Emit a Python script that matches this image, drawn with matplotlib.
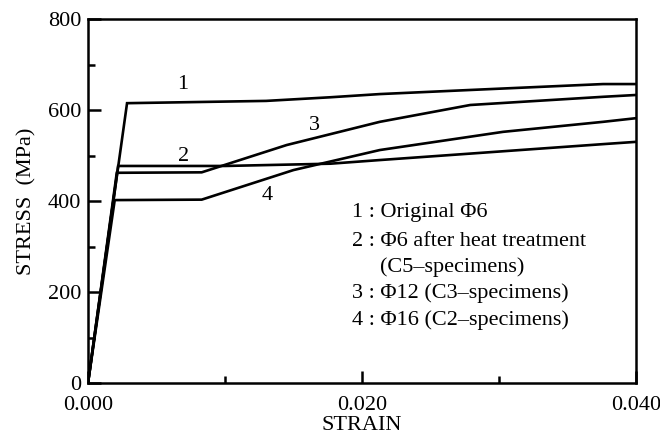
import matplotlib
matplotlib.use("Agg")
import matplotlib.pyplot as plt
from matplotlib.ticker import MultipleLocator, FixedLocator

plt.rcParams['font.family'] = ['Liberation Serif', 'DejaVu Serif']

# Curve 1: Original Φ6
strain1 = [0.0, 0.00285, 0.013, 0.0177, 0.0213, 0.0279, 0.0376, 0.040]
stress1 = [0, 615, 620, 628, 635, 644, 657, 657]
# Curve 2: Φ6 after heat treatment
strain2 = [0.0, 0.0022, 0.010, 0.0177, 0.0213, 0.0376, 0.040]
stress2 = [0, 477, 477, 482, 490, 525, 530]
# Curve 3: Φ12
strain3 = [0.0, 0.0021, 0.0083, 0.0145, 0.0213, 0.0279, 0.0376, 0.040]
stress3 = [0, 462, 463, 523, 574, 611, 629, 633]
# Curve 4: Φ16
strain4 = [0.0, 0.00195, 0.0083, 0.0150, 0.0213, 0.0303, 0.0376, 0.040]
stress4 = [0, 402, 403, 468, 512, 552, 574, 582]

curve_labels = ["1", "2", "3", "4"]
legend_lines = ["1 : Original Φ6",
                "2 : Φ6 after heat treatment",
                "(C5–specimens)",
                "3 : Φ12 (C3–specimens)",
                "4 : Φ16 (C2–specimens)"]

FS = 16
fig = plt.figure(figsize=(6.6, 4.41), dpi=100)
ax = fig.add_axes([88/660, 1 - 383/441, 548/660, 364/441])

lw = 1.9
for sx, sy in [(strain1, stress1), (strain2, stress2), (strain3, stress3), (strain4, stress4)]:
    ax.plot(sx, sy, color='black', lw=lw, solid_joinstyle='miter')

ax.set_xlim(0, 0.040)
ax.set_ylim(0, 800)

for s in ax.spines.values():
    s.set_linewidth(1.8)

ax.xaxis.set_major_locator(FixedLocator([0.0, 0.020, 0.040]))
ax.xaxis.set_minor_locator(FixedLocator([0.010, 0.030]))
ax.yaxis.set_major_locator(MultipleLocator(200))
ax.yaxis.set_minor_locator(MultipleLocator(100))
ax.set_xticklabels(["0.000", "0.020", "0.040"])
ax.tick_params(axis='both', which='major', direction='in', length=9, width=1.8,
               labelsize=FS, top=False, right=False, pad=5)
ax.tick_params(axis='both', which='minor', direction='in', length=5, width=1.8,
               top=False, right=False)
ax.tick_params(axis='x', which='major', pad=9)

ax.set_xlabel("STRAIN", fontsize=FS, labelpad=1)
ax.set_ylabel("STRESS  (MPa)", fontsize=FS, labelpad=8)

# curve number labels
label_pos = [(0.0069, 657), (0.0070, 497), (0.0165, 565), (0.0131, 411)]
for t, (x, y) in zip(curve_labels, label_pos):
    ax.text(x, y, t, fontsize=FS, ha='center', va='center')

# legend text
legend_pos = [(0.01927, 374), (0.01927, 310), (0.0213, 255), (0.01927, 198), (0.01927, 138)]
for t, (x, y) in zip(legend_lines, legend_pos):
    ax.text(x, y, t, fontsize=FS, ha='left', va='center')

fig.savefig("out.png", dpi=100)
